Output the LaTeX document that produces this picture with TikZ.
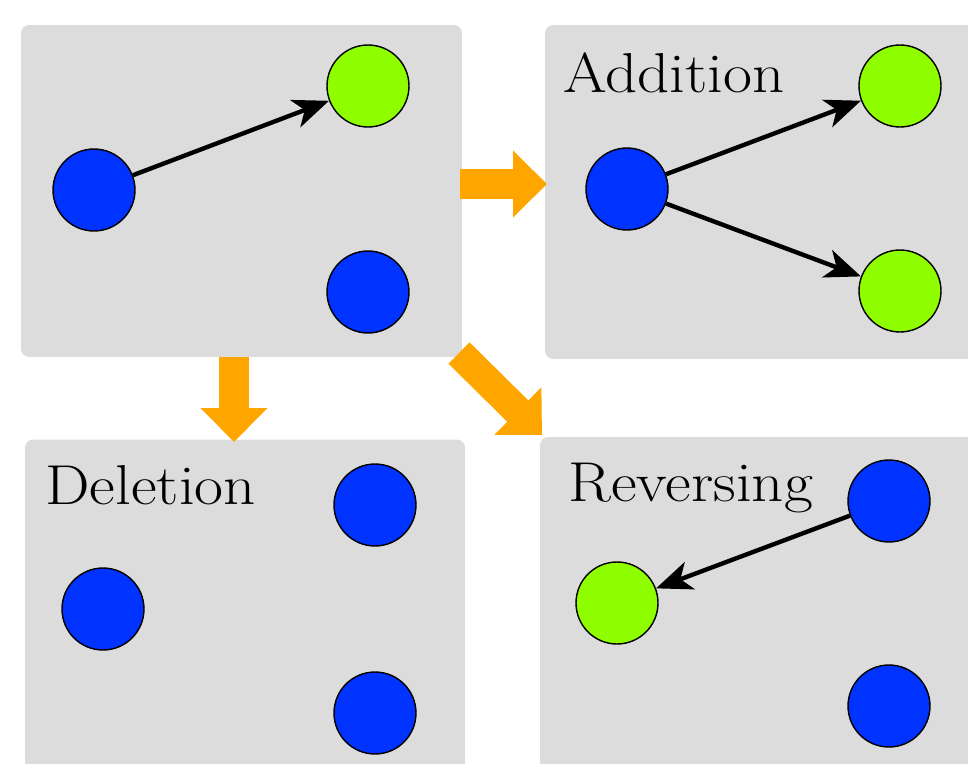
\documentclass[tikz,border=0pt]{standalone}
\usetikzlibrary{arrows.meta}
\definecolor{panelgray}{RGB}{220,220,220}
\definecolor{nodeblue}{RGB}{0,51,255}
\definecolor{nodegreen}{RGB}{143,255,0}
\definecolor{floworange}{RGB}{255,165,0}
\begin{document}
\begin{tikzpicture}[x=0.02cm, y=-0.02cm,
        panel/.style = {fill=panelgray, rounded corners=0.16cm, inner sep=0pt, minimum width=8.8cm, minimum height=6.66cm},
        vtx/.style = {draw, circle, line width=0.8pt, inner sep=0pt, minimum size=1.64cm},
        bvtx/.style = {vtx, fill=nodeblue},
        gvtx/.style = {vtx, fill=nodegreen},
        edge/.style = {line width=2.5pt, -{Stealth[length=0.72cm, width=0.58cm, inset=0.2cm]}},
        flow/.style = {floworange, line width=0.6cm, -{Triangle[length=0.68cm, width=1.3cm]}},
        title/.style = {anchor=base west, inner sep=0pt, xscale=1.12, transform shape, font=\fontsize{32}{38}\selectfont}]
        \clip (0,0) rectangle (968,764);

        % panels
        \node[panel, minimum width=8.82cm, minimum height=6.64cm] (start) at (241.5,191) {};
        \node[panel, minimum height=6.68cm] (add) at (765,192) {};
        \node[panel] (del) at (245,606) {};
        \node[panel] (rev) at (760,603.5) {};

        \node[title] (addT) at (563,92)  {Addition};
        \node[title] (delT) at (45,504)  {Deletion};
        \node[title] (revT) at (568,501) {Reversing};

        % start graph
        \node[bvtx] (s1) at (94,190)  {};
        \node[gvtx] (s2) at (368,86)  {};
        \node[bvtx] (s3) at (368,292) {};
        \draw[edge] (s1) -- (s2);

        % addition
        \node[bvtx] (a1) at (627,189) {};
        \node[gvtx] (a2) at (900,86)  {};
        \node[gvtx] (a3) at (900,291) {};
        \draw[edge] (a1) -- (a2);
        \draw[edge] (a1) -- (a3);

        % deletion
        \node[bvtx] (d1) at (103,609) {};
        \node[bvtx] (d2) at (375,505) {};
        \node[bvtx] (d3) at (375,713) {};

        % reversing
        \node[gvtx] (r1) at (617,603) {};
        \node[bvtx] (r2) at (889,501) {};
        \node[bvtx] (r3) at (889,706) {};
        \draw[edge] (r2) -- (r1);

        % flow between panels
        \coordinate (toAddS) at (460,184);
        \coordinate (toAddE) at (547,184);
        \coordinate (toDelS) at (234,357);
        \coordinate (toDelE) at (234,442);
        \coordinate (toRevS) at (459,353);
        \coordinate (toRevE) at (542,435);
        \draw[flow] (toAddS) -- (toAddE);
        \draw[flow] (toDelS) -- (toDelE);
        \draw[flow] (toRevS) -- (toRevE);

    \end{tikzpicture}
\end{document}
